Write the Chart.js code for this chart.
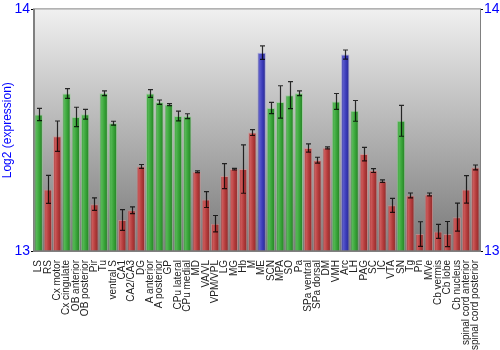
<!DOCTYPE html>
<html>
<head>
<meta charset="utf-8">
<script src="https://cdn.jsdelivr.net/npm/chart.js@4"></script>
<style>
  html, body { margin: 0; padding: 0; background: #fff; }
  #wrap { width: 500px; height: 350px; }
</style>
</head>
<body>
<div id="wrap"><canvas id="chart" width="500" height="350"></canvas></div>
<script>
const regions = ['LS', 'RS', 'Cx motor', 'Cx cingulate', 'OB anterior', 'OB posterior', 'Pir', 'Tu',
  'ventral S', 'CA1', 'CA2/CA3', 'DG', 'A anterior', 'A posterior', 'GP', 'CPu lateral', 'CPu medial',
  'MD', 'VA/VL', 'VPM/VPL', 'LG', 'MG', 'Hb', 'M', 'ME', 'SCN', 'MPA', 'SO', 'Pa', 'SPa ventral',
  'SPa dorsal', 'DM', 'VMH', 'Arc', 'LH', 'PAG', 'SC', 'IC', 'VTA', 'SN', 'Tg', 'Pn', 'MVe',
  'Cb vermis', 'Cb lobe', 'Cb nucleus', 'spinal cord anterior', 'spinal cord posterior'];

const expression = [13.565, 13.255, 13.475, 13.652, 13.555, 13.566, 13.194, 13.653,
  13.529, 13.128, 13.169, 13.350, 13.652, 13.616, 13.606, 13.559, 13.558,
  13.328, 13.213, 13.113, 13.310, 13.339, 13.339, 13.490, 13.821, 13.592, 13.617, 13.645, 13.653, 13.426,
  13.376, 13.427, 13.619, 13.813, 13.580, 13.401, 13.333, 13.289, 13.189, 13.539, 13.230, 13.070, 13.234,
  13.081, 13.070, 13.140, 13.255, 13.346];

const stdErr = [0.025, 0.058, 0.063, 0.020, 0.040, 0.020, 0.026, 0.010,
  0.008, 0.043, 0.014, 0.008, 0.016, 0.009, 0.004, 0.020, 0.010,
  0.004, 0.033, 0.034, 0.052, 0.003, 0.100, 0.012, 0.028, 0.023, 0.067, 0.056, 0.010, 0.017,
  0.012, 0.004, 0.033, 0.019, 0.043, 0.028, 0.008, 0.005, 0.029, 0.064, 0.010, 0.051, 0.006,
  0.029, 0.052, 0.058, 0.057, 0.010];

// g = high (green), r = low (red), b = highest (blue)
const level = ['g', 'r', 'r', 'g', 'g', 'g', 'r', 'g',
  'g', 'r', 'r', 'r', 'g', 'g', 'g', 'g', 'g',
  'r', 'r', 'r', 'r', 'r', 'r', 'r', 'b', 'g', 'g', 'g', 'g', 'r',
  'r', 'r', 'g', 'b', 'g', 'r', 'r', 'r', 'r', 'g', 'r', 'r', 'r',
  'r', 'r', 'r', 'r', 'r'];

const yTicks = [13, 14];

const shades = {
  g: ['#2a8a2a', '#55b855', '#36a236', '#247a24', 'rgba(140,210,140,0.6)'],
  r: ['#962c2c', '#cc5a5a', '#b23a3a', '#8a2828', 'rgba(220,140,140,0.6)'],
  b: ['#2c2c96', '#5a5acc', '#3a3ab8', '#28288a', 'rgba(140,140,220,0.6)']
};

function barFill(ctx) {
  const chart = ctx.chart;
  const i = ctx.dataIndex;
  const s = shades[level[i]] || shades.r;
  const xs = chart.scales.x;
  const c = xs ? xs.getPixelForValue(i) : NaN;
  const w = xs ? xs.width / regions.length * 0.9 : NaN;
  if (!isFinite(c) || !isFinite(w) || w <= 0) return s[2];
  const g = chart.ctx.createLinearGradient(c - w / 2, 0, c + w / 2, 0);
  g.addColorStop(0, s[0]);
  g.addColorStop(0.25, s[1]);
  g.addColorStop(0.6, s[2]);
  g.addColorStop(1, s[3]);
  return g;
}

const bgPlugin = {
  id: 'bg',
  beforeDraw(chart) {
    const { ctx, chartArea: a } = chart;
    const g = ctx.createLinearGradient(0, a.top, 0, a.bottom);
    g.addColorStop(0, '#f0f0f0');
    g.addColorStop(1, '#787878');
    ctx.save();
    ctx.fillStyle = g;
    ctx.fillRect(a.left, a.top, a.right - a.left, a.bottom - a.top);
    ctx.restore();
  },
  afterDraw(chart) {
    const { ctx, chartArea: a } = chart;
    ctx.save();
    ctx.strokeStyle = '#808080';
    ctx.lineWidth = 1;
    ctx.strokeRect(a.left - 0.5, a.top - 0.5, a.right - a.left + 1, a.bottom - a.top + 1);
    ctx.restore();
  }
};

const errPlugin = {
  id: 'errbars',
  afterDatasetsDraw(chart) {
    const { ctx } = chart;
    const y = chart.scales.y;
    const meta = chart.getDatasetMeta(0);
    ctx.save();
    ctx.strokeStyle = 'rgba(0,0,0,0.8)';
    ctx.lineWidth = 1.2;
    meta.data.forEach((bar, i) => {
      const x = Math.round(bar.x) + 0.5;
      const hi = y.getPixelForValue(expression[i] + stdErr[i]);
      const lo = y.getPixelForValue(expression[i] - stdErr[i]);
      ctx.beginPath();
      ctx.moveTo(x, hi); ctx.lineTo(x, lo);
      ctx.moveTo(x - 2.5, hi); ctx.lineTo(x + 2.5, hi);
      ctx.moveTo(x - 2.5, lo); ctx.lineTo(x + 2.5, lo);
      ctx.stroke();
    });
    ctx.restore();
  }
};

const blueTicks = {
  color: '#0000ff',
  font: { family: 'Liberation Sans', size: 14 },
  padding: 1,
  autoSkip: false,
  stepSize: 1,
  callback: v => yTicks.includes(v) ? String(v) : ''
};

new Chart(document.getElementById('chart'), {
  type: 'bar',
  data: {
    labels: regions,
    datasets: [{
      data: expression,
      backgroundColor: barFill,
      borderColor: ctx => (shades[level[ctx.dataIndex]] || shades.r)[4],
      borderWidth: 1,
      borderSkipped: 'bottom',
      barPercentage: 0.9,
      categoryPercentage: 1.0,
      base: 13
    }]
  },
  options: {
    responsive: false,
    animation: false,
    layout: { padding: { top: 9, left: 0, right: 0, bottom: 0 } },
    plugins: { legend: { display: false }, tooltip: { enabled: false } },
    scales: {
      x: {
        grid: { display: false },
        border: { display: false },
        ticks: {
          color: '#222',
          font: { family: 'Liberation Sans', size: 10 },
          maxRotation: 90,
          minRotation: 90,
          autoSkip: false,
          padding: 1
        },
        afterFit: s => { s.height = 99; }
      },
      y: {
        min: 13,
        max: 14,
        position: 'left',
        grid: { drawOnChartArea: false, color: '#000', tickLength: 3 },
        border: { color: '#808080' },
        ticks: blueTicks,
        title: {
          display: true,
          text: 'Log2 (expression)',
          color: '#0000ff',
          font: { family: 'Liberation Sans', size: 12 },
          padding: 0
        },
        afterFit: s => { s.width = 34; }
      },
      y2: {
        min: 13,
        max: 14,
        position: 'right',
        grid: { drawOnChartArea: false, color: '#000', tickLength: 3 },
        border: { color: '#808080' },
        ticks: blueTicks,
        afterFit: s => { s.width = 20; }
      }
    }
  },
  plugins: [bgPlugin, errPlugin]
});
</script>
</body>
</html>
